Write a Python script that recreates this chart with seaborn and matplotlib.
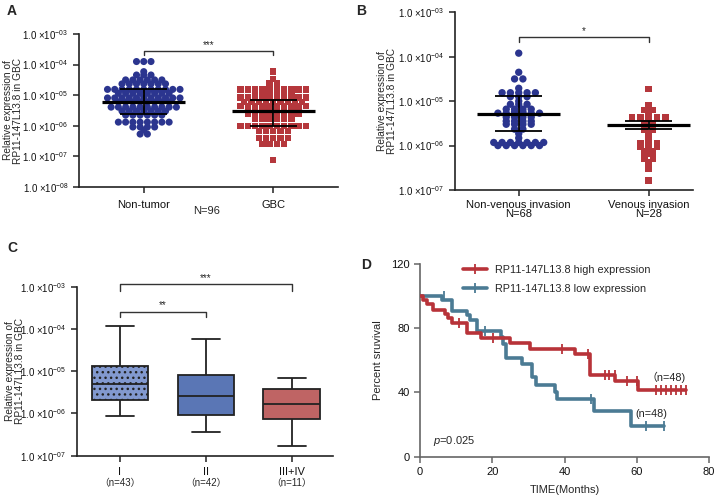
import numpy as np
import pandas as pd
import matplotlib
matplotlib.use("Agg")
import matplotlib.pyplot as plt
from matplotlib.lines import Line2D
import seaborn as sns

# ---------------- data (expression values as log10) ----------------
a_groups = ["Non-tumor", "GBC"]
a_nontumor = ([-3.90] * 3 + [-4.23] * 1 + [-4.34] * 3 + [-4.50] * 6 + [-4.63] * 7 +
              [-4.81] * 11 + [-4.94] * 8 + [-5.09] * 11 + [-5.22] * 8 + [-5.39] * 10 +
              [-5.52] * 7 + [-5.65] * 6 + [-5.88] * 8 + [-6.04] * 4 + [-6.14] * 1 + [-6.27] * 2)
a_gbc = ([-4.23] * 1 + [-4.47] * 1 + [-4.60] * 2 + [-4.81] * 10 + [-4.93] * 6 +
         [-5.08] * 10 + [-5.22] * 9 + [-5.35] * 10 + [-5.51] * 8 + [-5.61] * 8 +
         [-5.78] * 6 + [-6.01] * 10 + [-6.17] * 5 + [-6.40] * 5 + [-6.59] * 4 + [-7.12] * 1)
a_mean = [-5.22, -5.51]
a_sd_low = [-5.61, -6.01]
a_sd_high = [-4.81, -5.16]
a_sig = "***"
a_n = "N=96"

b_groups = ["Non-venous invasion", "Venous invasion"]
b_n = ["N=68", "N=28"]
b_nonvenous = ([-3.92] * 1 + [-4.35] * 1 + [-4.50] * 2 + [-4.71] * 1 + [-4.81] * 5 +
               [-4.90] * 3 + [-5.00] * 1 + [-5.07] * 3 + [-5.18] * 4 + [-5.24] * 2 +
               [-5.27] * 6 + [-5.36] * 4 + [-5.45] * 4 + [-5.52] * 4 + [-5.63] * 2 +
               [-5.73] * 1 + [-5.83] * 1 + [-5.93] * 7 + [-6.00] * 6)
b_venous = ([-4.73] * 1 + [-5.09] * 1 + [-5.16] * 1 + [-5.20] * 2 + [-5.24] * 1 +
            [-5.37] * 5 + [-5.49] * 2 + [-5.58] * 2 + [-5.65] * 2 + [-5.73] * 1 +
            [-5.78] * 1 + [-5.84] * 1 + [-5.89] * 1 + [-5.94] * 3 + [-5.97] * 1 +
            [-6.03] * 3 + [-6.14] * 2 + [-6.18] * 1 + [-6.29] * 2 + [-6.38] * 1 +
            [-6.53] * 1 + [-6.78] * 1)
b_mean = [-5.29, -5.54]
b_sd_low = [-5.67, -5.63]
b_sd_high = [-4.88, -5.45]
b_sig = "*"

c_groups = ["I", "II", "III+IV"]
c_n = ["（n=43）", "（n=42）", "（n=11）"]
# min, Q1, median, Q3, max (log10)
c_I = [-6.05, -5.68, -5.30, -4.88, -3.93]
c_II = [-6.45, -6.04, -5.59, -5.10, -4.245]
c_III = [-6.77, -6.13, -5.78, -5.41, -5.17]
c_sig = ["**", "***"]

d_high_t = [0, 0.9, 1.8, 3.7, 6.9, 7.8, 8.8, 12.9, 16.9, 24.9, 30.4, 43.0, 47.0, 54.1, 60.4, 73.6]
d_high_s = [100, 97.6, 95.1, 91.3, 88.9, 86.2, 83.0, 76.8, 73.7, 70.5, 66.9, 63.8, 50.8, 46.9, 41.7, 41.7]
d_high_cens_t = [10.9, 20.1, 39.2, 46.5, 51.1, 52.3, 53.9, 57.4, 60.2, 65.4, 66.8, 68.2, 69.5, 70.9, 72.3, 73.5]
d_high_cens_s = [83.0, 73.7, 66.9, 63.8, 50.8, 50.8, 50.8, 46.9, 46.9, 41.7, 41.7, 41.7, 41.7, 41.7, 41.7, 41.7]
d_low_t = [0, 6.0, 8.9, 12.9, 13.8, 15.7, 22.3, 23.0, 23.8, 28.1, 31.0, 32.1, 37.3, 38.0, 48.3, 58.3, 67.6]
d_low_s = [100, 97.6, 91.0, 88.3, 85.0, 78.3, 74.5, 70.0, 61.5, 57.5, 49.6, 44.8, 40.3, 36.0, 28.4, 19.3, 19.3]
d_low_cens_t = [6.7, 18.0, 47.3, 62.5, 67.6]
d_low_cens_s = [100, 78.3, 36.0, 19.3, 19.3]
d_labels = ["RP11-147L13.8 high expression", "RP11-147L13.8 low expression"]
d_n = ["（n=48)", "(n=48)"]
d_p = "=0.025"

# ---------------- style ----------------
sns.set_theme(style="ticks")
plt.rcParams["font.family"] = ["Liberation Sans", "Noto Sans CJK SC", "DejaVu Sans"]
plt.rcParams["mathtext.fontset"] = "custom"
plt.rcParams["mathtext.rm"] = "Liberation Sans"
plt.rcParams["mathtext.it"] = "Liberation Sans:italic"
plt.rcParams["hatch.linewidth"] = 1.0

BLUE_DOT = "#2b358f"
RED_SQ = "#b5373c"
KM_RED = "#b83339"
KM_BLUE = "#4b7b94"
BOX_COLS = ["#8299cf", "#5a76b5", "#bf6464"]
AX_COL = "#222222"

W, H = 718, 497
fig = plt.figure(figsize=(W / 100, H / 100), dpi=100)


def ax_px(l, t, r, b):
    return fig.add_axes([l / W, 1 - b / H, (r - l) / W, (b - t) / H])


def ftext(x, y, s, **kw):
    fig.text(x / W, 1 - y / H, s, **kw)


def style_axes(ax):
    sns.despine(ax=ax)
    for sp in ("left", "bottom"):
        ax.spines[sp].set_linewidth(1.2)
        ax.spines[sp].set_color(AX_COL)
    ax.tick_params(axis="both", direction="out", length=4, width=1.1, color=AX_COL,
                   labelcolor="#111111")


def log_labels(lo, hi):
    ticks = list(range(lo, hi + 1))
    labels = [r"1.0 ×10$^{\mathregular{-0%d}}$" % (-t) for t in ticks]
    return ticks, labels


def row_scatter_frame(groups, series, spacing):
    """Prism-style column scatter: equal values share a row, spread evenly around the category."""
    rows = []
    for gi, (g, vals) in enumerate(zip(groups, series)):
        vals = np.asarray(vals, dtype=float)
        offs = np.zeros(len(vals))
        for v in np.unique(vals):
            idx = np.where(vals == v)[0]
            k = len(idx)
            offs[idx] = (np.arange(k) - (k - 1) / 2) * spacing
        for v, o in zip(vals, offs):
            rows.append({"group": g, "pos": gi + o, "value": v})
    return pd.DataFrame(rows)


def column_scatter(ax, groups, series, spacing, sizes):
    df = row_scatter_frame(groups, series, spacing)
    sns.scatterplot(data=df, x="pos", y="value", hue="group", style="group",
                    hue_order=groups, style_order=groups,
                    palette=[BLUE_DOT, RED_SQ], markers=["o", "s"], size="group",
                    sizes=dict(zip(groups, sizes)), linewidth=0, legend=False, ax=ax, zorder=3)


def mean_sd(ax, means, lows, highs, mw, sw):
    for i, (m, lo, hi) in enumerate(zip(means, lows, highs)):
        ax.hlines(m, i - mw, i + mw, color="black", lw=2.3, zorder=6)
        ax.hlines([lo, hi], i - sw, i + sw, color="black", lw=1.3, zorder=6)
        ax.vlines(i, lo, hi, color="black", lw=1.3, zorder=6)


def bracket(ax, x0, x1, y, drop, text, fs=7):
    ax.plot([x0, x0, x1, x1], [y - drop, y, y, y - drop], color="#333333", lw=1.0,
            clip_on=False, zorder=7)
    ax.text((x0 + x1) / 2, y + 0.03, text, ha="center", va="bottom", fontsize=fs,
            clip_on=False)


YLAB = "Relative expression of\nRP11-147L13.8 in GBC"
YLAB_FS = 7.3

# ---------------- Panel A ----------------
axA = ax_px(79, 34, 338, 187)
column_scatter(axA, a_groups, [a_nontumor, a_gbc], 0.056, [26, 21])
mean_sd(axA, a_mean, a_sd_low, a_sd_high, 0.32, 0.18)
axA.set_xlim(-0.5, 1.5)
axA.set_ylim(-8, -3)
t, l = log_labels(-8, -3)
axA.set_yticks(t, l, fontsize=7)
axA.set_xticks([0, 1], a_groups, fontsize=8)
axA.set_xlabel("")
axA.set_ylabel(YLAB, fontsize=YLAB_FS, linespacing=0.95)
axA.yaxis.set_label_coords(-0.216, 0.5)
style_axes(axA)
axA.tick_params(axis="x", pad=5)
bracket(axA, 0, 1, -3.546, 0.14, a_sig)
ftext(207, 211, a_n, ha="center", va="center", fontsize=8)

# ---------------- Panel B ----------------
axB = ax_px(455, 12.3, 693, 190)
column_scatter(axB, b_groups, [b_nonvenous, b_venous], 0.064, [28, 23])
mean_sd(axB, b_mean, b_sd_low, b_sd_high, 0.32, 0.18)
axB.set_xlim(-0.49, 1.34)
axB.set_ylim(-7, -3)
t, l = log_labels(-7, -3)
axB.set_yticks(t, l, fontsize=7)
axB.set_xticks([0, 1], [g + "\n" + n for g, n in zip(b_groups, b_n)], fontsize=8,
               linespacing=0.85)
axB.set_xlabel("")
axB.set_ylabel(YLAB, fontsize=YLAB_FS, linespacing=0.95)
axB.yaxis.set_label_coords(-0.244, 0.5)
style_axes(axB)
axB.tick_params(axis="x", pad=3)
bracket(axB, 0, 1, -3.563, 0.11, b_sig)

# ---------------- Panel C ----------------
axC = ax_px(77, 286.7, 333, 455.7)
dfC = pd.DataFrame({"group": [c_groups[0]] * 5 + [c_groups[1]] * 5 + [c_groups[2]] * 5,
                    "value": c_I + c_II + c_III})
sns.boxplot(data=dfC, x="group", y="value", hue="group", order=c_groups, hue_order=c_groups,
            palette=BOX_COLS, legend=False, whis=(0, 100), width=0.66, saturation=1,
            linecolor="#222222", linewidth=1.3, showfliers=False, ax=axC)
box_patches = [p for p in axC.patches]
if box_patches:
    box_patches[0].set_hatch("...")
axC.set_xlim(-0.5, 2.48)
axC.set_ylim(-7, -3)
t, l = log_labels(-7, -3)
axC.set_yticks(t, l, fontsize=7)
axC.set_xticks([0, 1, 2], c_groups, fontsize=8)
axC.set_xlabel("")
axC.set_ylabel(YLAB, fontsize=YLAB_FS, linespacing=0.95)
axC.yaxis.set_label_coords(-0.205, 0.5)
style_axes(axC)
axC.tick_params(axis="x", pad=4)
for i, s in enumerate(c_n):
    axC.text(i, -0.163, s, transform=axC.get_xaxis_transform(), ha="center", va="center",
             fontsize=7)
bracket(axC, 0, 1, -3.59, 0.12, c_sig[0])
bracket(axC, 0, 2, -2.943, 0.15, c_sig[1])

# ---------------- Panel D ----------------
axD = ax_px(420, 264, 709, 456.7)
sns.lineplot(x=d_high_t, y=d_high_s, drawstyle="steps-post", color=KM_RED, lw=2.6,
             estimator=None, ax=axD, zorder=4)
sns.lineplot(x=d_low_t, y=d_low_s, drawstyle="steps-post", color=KM_BLUE, lw=2.6,
             estimator=None, ax=axD, zorder=3)
sns.scatterplot(x=d_high_cens_t, y=d_high_cens_s, marker="|", s=45, linewidth=1.3,
                color=KM_RED, ax=axD, zorder=5)
sns.scatterplot(x=d_low_cens_t, y=d_low_cens_s, marker="|", s=45, linewidth=1.3,
                color=KM_BLUE, ax=axD, zorder=5)
axD.set_xlim(0, 80)
axD.set_ylim(0, 120)
axD.set_xticks([0, 20, 40, 60, 80])
axD.set_yticks([0, 40, 80, 120])
axD.tick_params(labelsize=8)
axD.set_xlabel("TIME(Months)", fontsize=8, labelpad=6)
axD.set_ylabel("Percent sruvival", fontsize=8, labelpad=6)
style_axes(axD)
for sp in ("left", "bottom"):
    axD.spines[sp].set_color("#666666")
axD.tick_params(color="#666666")
handles = [Line2D([0], [0], color=KM_RED, lw=2.6, marker="|", markersize=7, mew=1.3),
           Line2D([0], [0], color=KM_BLUE, lw=2.6, marker="|", markersize=7, mew=1.3)]
axD.legend(handles, d_labels, loc="upper left", bbox_to_anchor=(0.115, 1.045), frameon=False,
           fontsize=7.8, handlelength=2.2, handletextpad=0.8, labelspacing=0.85)
axD.text(68.0, 49.6, d_n[0], ha="center", va="center", fontsize=7.8, color="#222222")
axD.text(63.9, 26.6, d_n[1], ha="center", va="center", fontsize=7.8, color="#222222")
axD.text(3.5, 9.5, r"$p$" + d_p, ha="left", va="center", fontsize=8)

# ---------------- panel letters ----------------
for ch, (x, y) in zip("ABCD", [(12, 11), (361, 11), (12, 248), (366, 265)]):
    ftext(x, y, ch, ha="center", va="center", fontsize=10, fontweight="bold")

fig.savefig("out.png", dpi=100)
